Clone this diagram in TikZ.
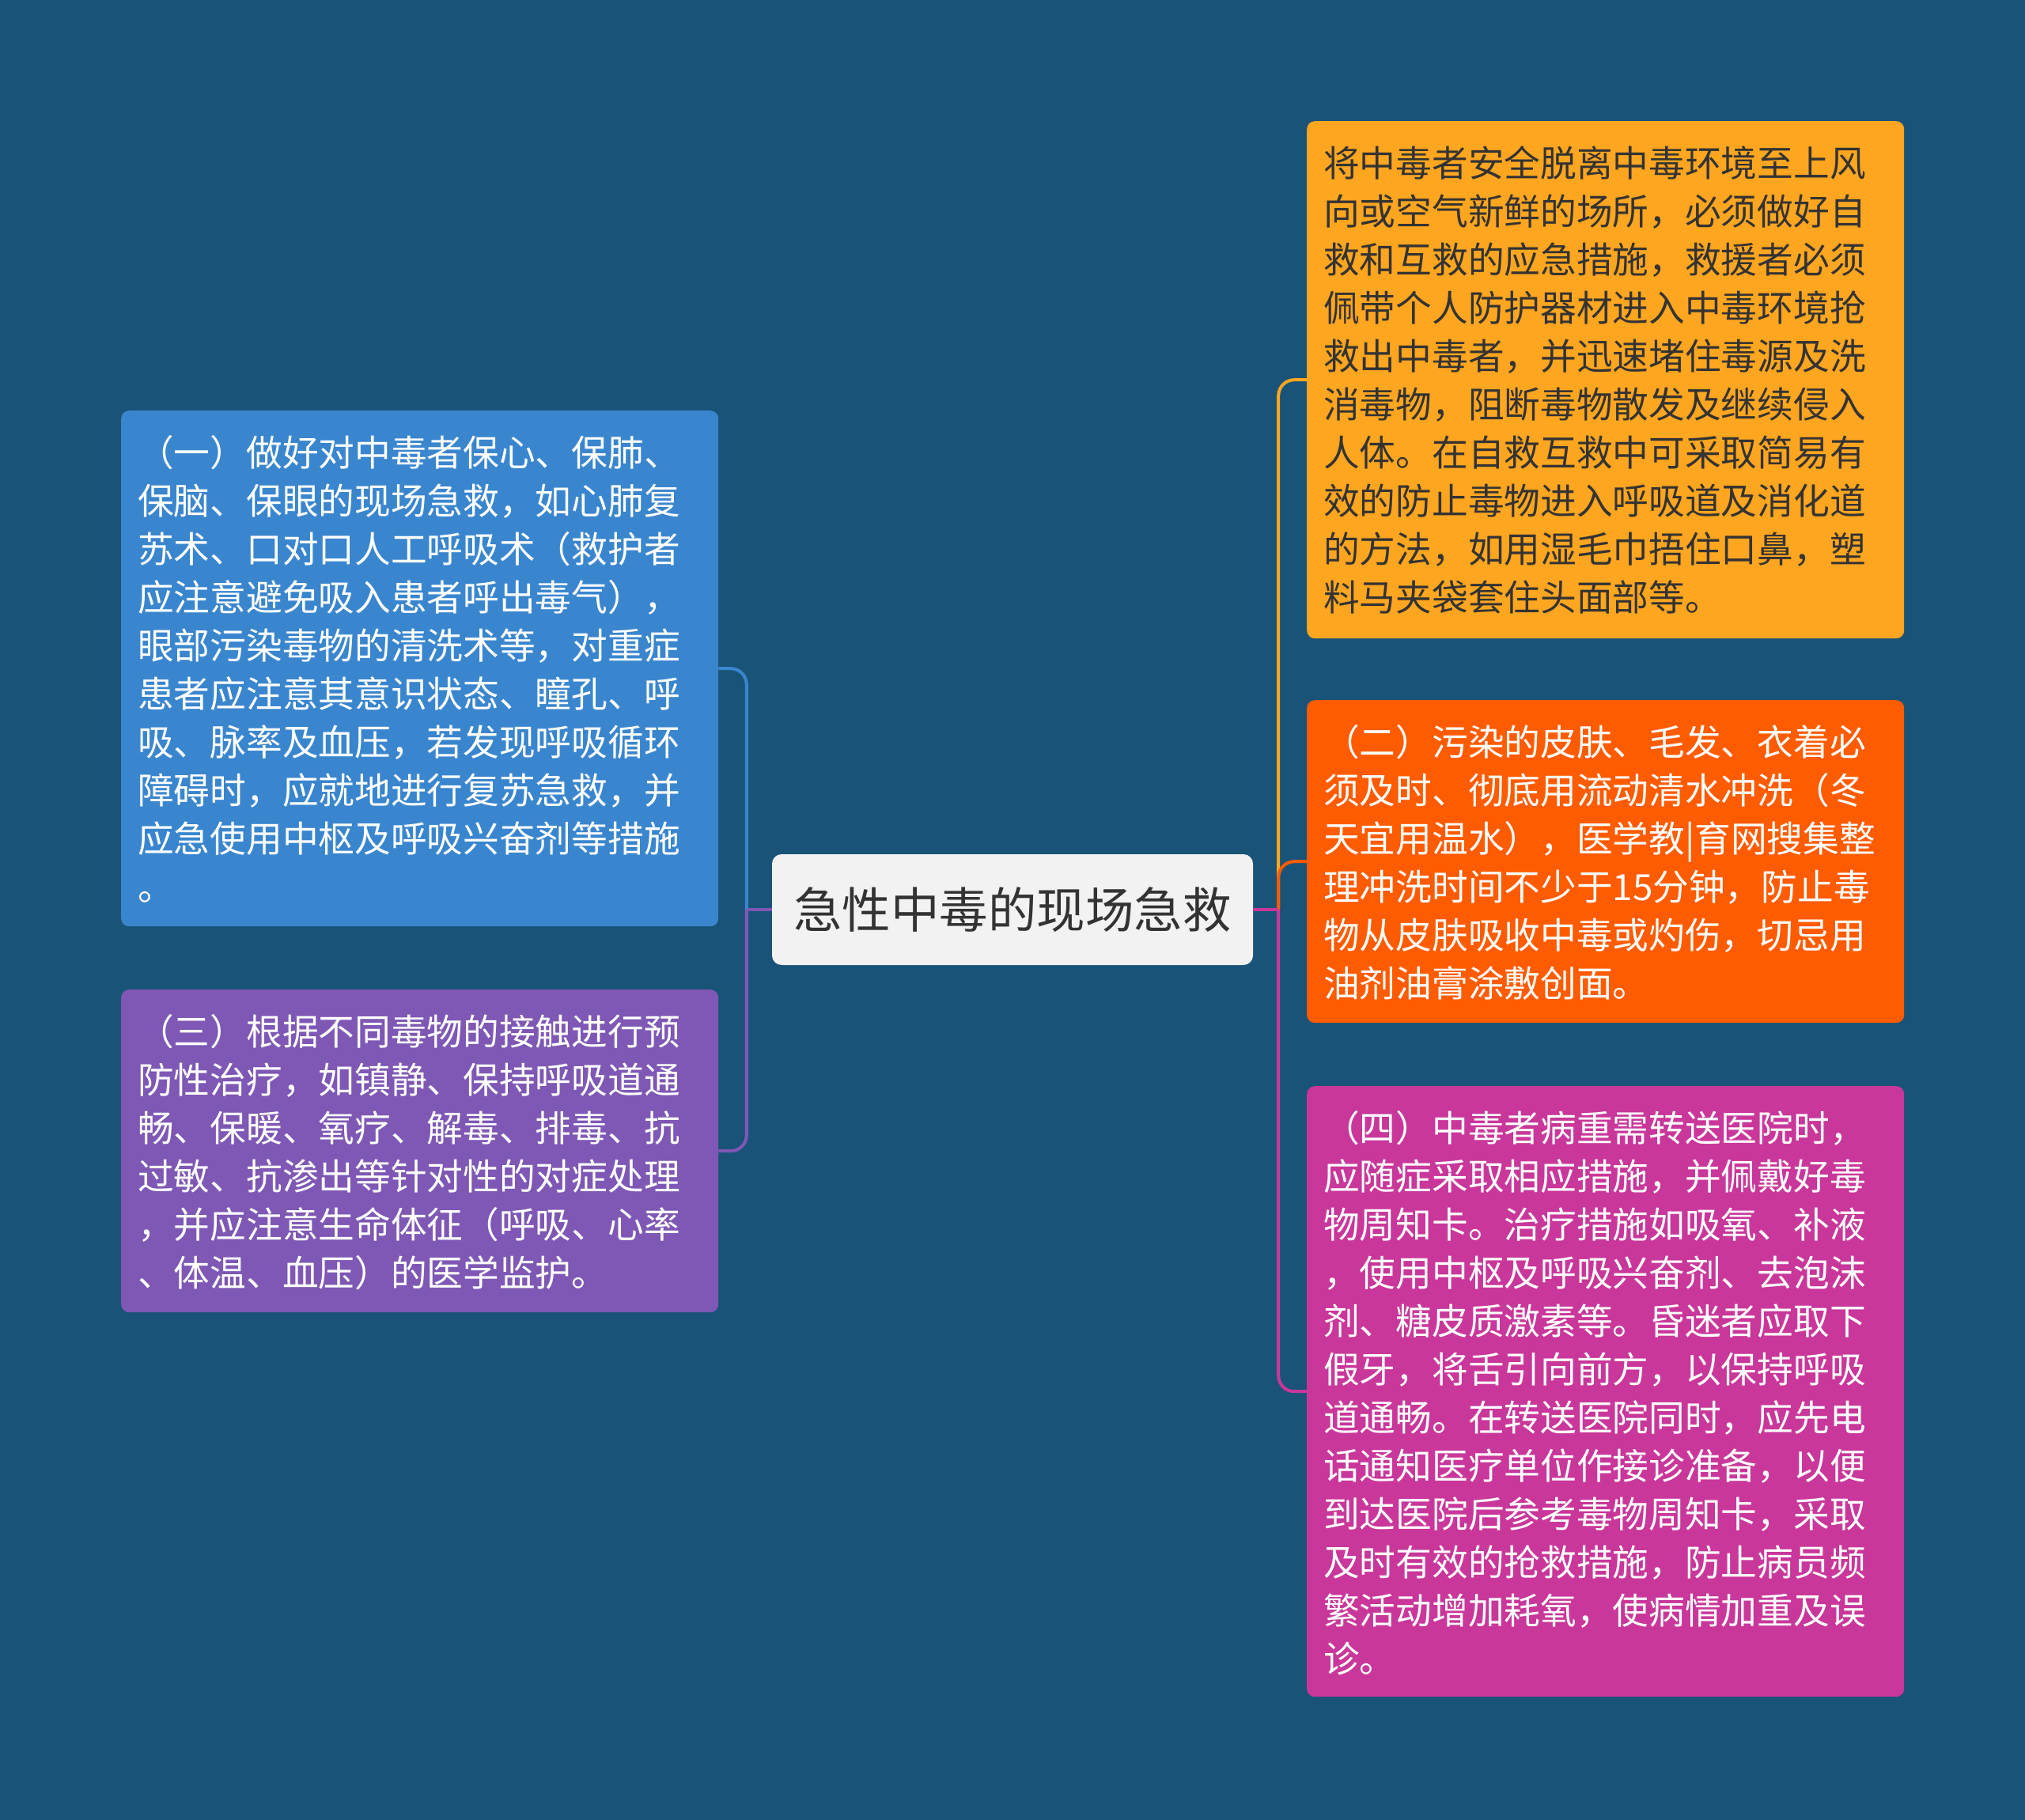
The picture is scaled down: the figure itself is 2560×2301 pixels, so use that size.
\documentclass[tikz,border=0pt]{standalone}
\usepackage{fontspec}
\setmainfont{Noto Sans CJK SC}
\definecolor{bgc}{HTML}{1A5378}
\definecolor{cblue}{HTML}{3A86CE}
\definecolor{cpurple}{HTML}{7E58B4}
\definecolor{cyellow}{HTML}{FFA620}
\definecolor{corange}{HTML}{FF5B00}
\definecolor{cmagenta}{HTML}{C9379A}
\definecolor{ccenter}{HTML}{F2F2F2}
\definecolor{ctext}{HTML}{333333}
\begin{document}
\begin{tikzpicture}[x=1pt,y=-1pt,
  box/.style={rounded corners=10pt, inner sep=0pt, anchor=north west, minimum width=755pt},
  txt/.style={inner sep=0pt, anchor=north west, align=left, font={\fontsize{45.7pt}{61pt}\selectfont}},
  centerbox/.style={fill=ccenter, rounded corners=12pt, minimum width=608pt, minimum height=140pt, inner sep=0pt, text=ctext, font={\fontsize{61.5pt}{72pt}\selectfont}},
  conn/.style={line width=4pt, rounded corners=20pt}
]
\useasboundingbox (0,0) rectangle (2560,2301);
\fill[bgc] (0,0) rectangle (2560,2301);

% boxes
\node[box, fill=cblue, minimum height=652pt] (b1) at (153,519) {};
\node[box, fill=cpurple, minimum height=408pt] (b2) at (153,1251) {};
\node[box, fill=cyellow, minimum height=654pt] (b3) at (1652,153) {};
\node[box, fill=corange, minimum height=408pt] (b4) at (1652,885) {};
\node[box, fill=cmagenta, minimum height=772pt] (b5) at (1652,1373) {};

\node[centerbox] (c) at (1280,1150) {急性中毒的现场急救};

\coordinate (jl) at ([xshift=-32pt]c.west);
\coordinate (jr) at ([xshift=32pt]c.east);

% connectors
\draw[conn, cblue] (jl) |- (b1.east);
\draw[conn, cpurple] (jl) |- (b2.east);
\draw[line width=4pt, cpurple] (c.west) -- (jl);
\draw[conn, cyellow] (jr) |- (b3.west);
\draw[conn, corange] (jr) |- (b4.west);
\draw[conn, cmagenta] (jr) |- (b5.west);
\draw[line width=4pt, cmagenta] (c.east) -- (jr);

% texts
\node[txt, text=white] (t1) at ([xshift=21pt, yshift=-29pt]b1.north west) {\rule{0pt}{0.9em}（一）做好对中毒者保心、保肺、\\保脑、保眼的现场急救，如心肺复\\苏术、口对口人工呼吸术（救护者\\应注意避免吸入患者呼出毒气），\\眼部污染毒物的清洗术等，对重症\\患者应注意其意识状态、瞳孔、呼\\吸、脉率及血压，若发现呼吸循环\\障碍时，应就地进行复苏急救，并\\应急使用中枢及呼吸兴奋剂等措施\\。};
\node[txt, text=white] (t2) at ([xshift=21pt, yshift=-29pt]b2.north west) {\rule{0pt}{0.9em}（三）根据不同毒物的接触进行预\\防性治疗，如镇静、保持呼吸道通\\畅、保暖、氧疗、解毒、排毒、抗\\过敏、抗渗出等针对性的对症处理\\，并应注意生命体征（呼吸、心率\\、体温、血压）的医学监护。};
\node[txt, text=ctext] (t3) at ([xshift=21pt, yshift=-29pt]b3.north west) {\rule{0pt}{0.9em}将中毒者安全脱离中毒环境至上风\\向或空气新鲜的场所，必须做好自\\救和互救的应急措施，救援者必须\\佩带个人防护器材进入中毒环境抢\\救出中毒者，并迅速堵住毒源及洗\\消毒物，阻断毒物散发及继续侵入\\人体。在自救互救中可采取简易有\\效的防止毒物进入呼吸道及消化道\\的方法，如用湿毛巾捂住口鼻，塑\\料马夹袋套住头面部等。};
\node[txt, text=white] (t4) at ([xshift=21pt, yshift=-29pt]b4.north west) {\rule{0pt}{0.9em}（二）污染的皮肤、毛发、衣着必\\须及时、彻底用流动清水冲洗（冬\\天宜用温水），医学教|育网搜集整\\理冲洗时间不少于15分钟，防止毒\\物从皮肤吸收中毒或灼伤，切忌用\\油剂油膏涂敷创面。};
\node[txt, text=white] (t5) at ([xshift=21pt, yshift=-29pt]b5.north west) {\rule{0pt}{0.9em}（四）中毒者病重需转送医院时，\\应随症采取相应措施，并佩戴好毒\\物周知卡。治疗措施如吸氧、补液\\，使用中枢及呼吸兴奋剂、去泡沫\\剂、糖皮质激素等。昏迷者应取下\\假牙，将舌引向前方，以保持呼吸\\道通畅。在转送医院同时，应先电\\话通知医疗单位作接诊准备，以便\\到达医院后参考毒物周知卡，采取\\及时有效的抢救措施，防止病员频\\繁活动增加耗氧，使病情加重及误\\诊。};
\end{tikzpicture}
\end{document}
